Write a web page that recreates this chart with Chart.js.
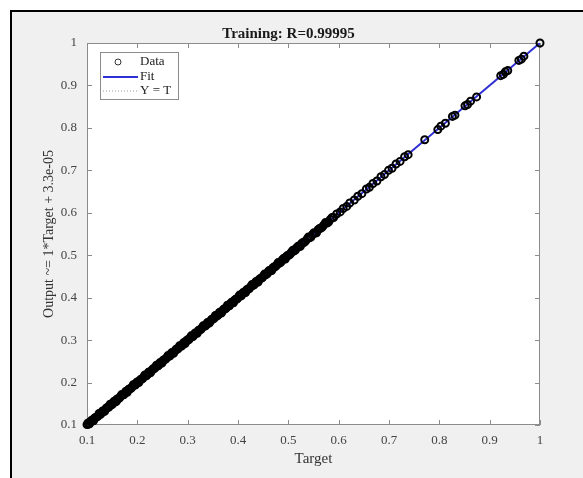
<!DOCTYPE html>
<html>
<head>
<meta charset="utf-8">
<script src="https://cdn.jsdelivr.net/npm/chart.js@4/dist/chart.umd.min.js"></script>
<style>
    html, body { margin: 0; padding: 0; background: #fff; }
    #regression { display: block; }
</style>
</head>
<body>
<canvas id="regression" width="583" height="478"></canvas>
<script>
// training targets and network outputs
const targets = [
    0.100, 0.103, 0.107, 0.111, 0.114, 0.118, 0.122, 0.125, 0.129, 0.133,
    0.137, 0.140, 0.144, 0.148, 0.152, 0.156, 0.159, 0.163, 0.167, 0.171,
    0.175, 0.178, 0.182, 0.186, 0.190, 0.194, 0.197, 0.201, 0.205, 0.209,
    0.213, 0.216, 0.220, 0.224, 0.228, 0.232, 0.236, 0.240, 0.243, 0.247,
    0.251, 0.255, 0.259, 0.263, 0.266, 0.270, 0.274, 0.278, 0.282, 0.286,
    0.290, 0.293, 0.297, 0.301, 0.305, 0.309, 0.313, 0.317, 0.321, 0.325,
    0.329, 0.333, 0.337, 0.341, 0.345, 0.349, 0.353, 0.357, 0.361, 0.365,
    0.369, 0.373, 0.377, 0.381, 0.385, 0.389, 0.393, 0.397, 0.401, 0.405,
    0.409, 0.413, 0.417, 0.421, 0.425, 0.430, 0.434, 0.438, 0.442, 0.447,
    0.451, 0.455, 0.460, 0.464, 0.469, 0.473, 0.478, 0.482, 0.487, 0.492,
    0.496, 0.501, 0.506, 0.511, 0.516, 0.521, 0.526, 0.531, 0.537, 0.542,
    0.548, 0.553, 0.559, 0.565, 0.571, 0.577, 0.583, 0.590, 0.596, 0.603,
    0.609, 0.616, 0.622, 0.631, 0.638, 0.646, 0.655, 0.661, 0.668, 0.676,
    0.684, 0.691, 0.699, 0.706, 0.714, 0.722, 0.731, 0.738, 0.771, 0.797,
    0.803, 0.812, 0.826, 0.831, 0.851, 0.856, 0.862, 0.874, 0.922, 0.927,
    0.931, 0.936, 0.958, 0.963, 0.968, 1.000,
    // second pass through the dense low range
    0.102, 0.105, 0.109, 0.113, 0.116, 0.120, 0.124, 0.127, 0.131, 0.135,
    0.139, 0.142, 0.146, 0.150, 0.154, 0.158, 0.161, 0.165, 0.169, 0.173,
    0.177, 0.180, 0.184, 0.188, 0.192, 0.196, 0.199, 0.203, 0.207, 0.211,
    0.215, 0.218, 0.222, 0.226, 0.230, 0.234, 0.238, 0.242, 0.245, 0.249,
    0.253, 0.257, 0.261, 0.265, 0.268, 0.272, 0.276, 0.280, 0.284, 0.288,
    0.292, 0.295, 0.299, 0.303, 0.307, 0.311, 0.315, 0.319, 0.323, 0.327,
    0.331, 0.335, 0.339, 0.343, 0.347, 0.351, 0.355, 0.359, 0.363, 0.367,
    0.371, 0.375, 0.379, 0.383, 0.387, 0.391, 0.395, 0.399, 0.403, 0.407,
    0.411, 0.415, 0.419, 0.423, 0.428, 0.432, 0.436, 0.440, 0.445, 0.449,
    0.453, 0.458, 0.462, 0.467, 0.471, 0.476, 0.480, 0.485, 0.490, 0.494,
    0.499, 0.504, 0.509, 0.514, 0.519, 0.524, 0.529, 0.534, 0.540, 0.545,
    0.551, 0.556, 0.562, 0.568, 0.574, 0.580, 0.587
];
const outputs = [
    0.101, 0.102, 0.108, 0.110, 0.115, 0.118, 0.121, 0.126, 0.129, 0.132,
    0.138, 0.141, 0.143, 0.148, 0.153, 0.155, 0.160, 0.162, 0.168, 0.171,
    0.174, 0.179, 0.183, 0.185, 0.190, 0.195, 0.196, 0.202, 0.205, 0.208,
    0.214, 0.217, 0.219, 0.225, 0.227, 0.233, 0.236, 0.239, 0.244, 0.246,
    0.252, 0.254, 0.260, 0.262, 0.267, 0.271, 0.273, 0.279, 0.281, 0.287,
    0.289, 0.294, 0.298, 0.300, 0.306, 0.308, 0.314, 0.316, 0.322, 0.324,
    0.330, 0.334, 0.336, 0.342, 0.344, 0.350, 0.352, 0.358, 0.360, 0.366,
    0.368, 0.374, 0.376, 0.382, 0.386, 0.388, 0.394, 0.396, 0.402, 0.404,
    0.410, 0.412, 0.418, 0.420, 0.426, 0.429, 0.435, 0.437, 0.443, 0.446,
    0.452, 0.454, 0.461, 0.463, 0.470, 0.472, 0.479, 0.481, 0.488, 0.491,
    0.497, 0.500, 0.507, 0.510, 0.517, 0.520, 0.527, 0.530, 0.538, 0.541,
    0.549, 0.552, 0.560, 0.564, 0.572, 0.576, 0.584, 0.589, 0.597, 0.602,
    0.610, 0.615, 0.623, 0.630, 0.639, 0.645, 0.656, 0.660, 0.669, 0.675,
    0.685, 0.690, 0.700, 0.705, 0.715, 0.721, 0.732, 0.737, 0.772, 0.796,
    0.804, 0.811, 0.827, 0.830, 0.852, 0.855, 0.863, 0.873, 0.923, 0.926,
    0.932, 0.935, 0.959, 0.962, 0.969, 1.000,
    0.105, 0.103, 0.111, 0.110, 0.117, 0.119, 0.127, 0.125, 0.133, 0.132,
    0.140, 0.141, 0.149, 0.148, 0.156, 0.155, 0.162, 0.164, 0.172, 0.171,
    0.179, 0.177, 0.185, 0.187, 0.195, 0.194, 0.201, 0.200, 0.208, 0.210,
    0.218, 0.216, 0.224, 0.223, 0.231, 0.233, 0.241, 0.240, 0.247, 0.246,
    0.254, 0.256, 0.264, 0.263, 0.270, 0.269, 0.277, 0.279, 0.287, 0.286,
    0.294, 0.292, 0.300, 0.302, 0.310, 0.309, 0.317, 0.316, 0.324, 0.326,
    0.334, 0.333, 0.341, 0.340, 0.348, 0.350, 0.358, 0.357, 0.365, 0.364,
    0.372, 0.374, 0.382, 0.381, 0.389, 0.388, 0.396, 0.398, 0.406, 0.405,
    0.413, 0.412, 0.420, 0.422, 0.431, 0.430, 0.438, 0.437, 0.446, 0.448,
    0.456, 0.456, 0.464, 0.464, 0.472, 0.475, 0.483, 0.483, 0.492, 0.491,
    0.500, 0.503, 0.512, 0.512, 0.521, 0.521, 0.530, 0.533, 0.543, 0.543,
    0.553, 0.553, 0.563, 0.567, 0.577, 0.578, 0.589
];

// fit: Output = 1*Target + 3.3e-05
const fitX = [0.1, 1];
const fitY = [0.100033, 1.000033];
const identity = [0.1, 1];

const axisTicks = [0.1, 0.2, 0.3, 0.4, 0.5, 0.6, 0.7, 0.8, 0.9, 1];
const titleText = "Training: R=0.99995";
const xTitle = "Target";
const yTitle = "Output ~= 1*Target + 3.3e-05";

const serif = "'Liberation Serif', 'Times New Roman', serif";

function pairs(xs, ys) {
    return xs.map((x, i) => ({ x: x, y: ys[i] }));
}

// grey figure panel, white axes box, inward tick marks
const figureBackground = {
    id: "figureBackground",
    beforeDraw(chart) {
        const ctx = chart.ctx;
        const area = chart.chartArea;
        ctx.save();
        ctx.fillStyle = "#ffffff";
        ctx.fillRect(0, 0, chart.width, chart.height);
        ctx.fillStyle = "#f0f0f0";
        ctx.fillRect(12, 12, chart.width - 12, chart.height - 12);
        ctx.strokeStyle = "#000000";
        ctx.lineWidth = 2;
        ctx.beginPath();
        ctx.moveTo(11, chart.height);
        ctx.lineTo(11, 11);
        ctx.lineTo(chart.width, 11);
        ctx.stroke();
        ctx.fillStyle = "#ffffff";
        ctx.fillRect(area.left, area.top, area.right - area.left, area.bottom - area.top);
        ctx.restore();
    },
    beforeDatasetsDraw(chart) {
        const ctx = chart.ctx;
        const area = chart.chartArea;
        const xs = chart.scales.x;
        const ys = chart.scales.y;
        ctx.save();
        ctx.strokeStyle = "#8c8c8c";
        ctx.lineWidth = 1;
        ctx.strokeRect(area.left + 0.5, area.top + 0.5, area.right - area.left - 1, area.bottom - area.top - 1);
        ctx.beginPath();
        axisTicks.forEach((v) => {
            const px = Math.round(xs.getPixelForValue(v)) + 0.5;
            ctx.moveTo(px, area.bottom);
            ctx.lineTo(px, area.bottom - 5);
            ctx.moveTo(px, area.top);
            ctx.lineTo(px, area.top + 5);
            const py = Math.round(ys.getPixelForValue(v)) + 0.5;
            ctx.moveTo(area.left, py);
            ctx.lineTo(area.left + 5, py);
            ctx.moveTo(area.right, py);
            ctx.lineTo(area.right - 5, py);
        });
        ctx.stroke();
        ctx.restore();
    },
};

// legend box in the upper-left corner of the axes
const cornerLegend = {
    id: "cornerLegend",
    afterDatasetsDraw(chart) {
        const ctx = chart.ctx;
        const sets = chart.data.datasets;
        const left = chart.chartArea.left + 13;
        const top = chart.chartArea.top + 9;
        ctx.save();
        ctx.fillStyle = "#ffffff";
        ctx.fillRect(left, top, 79, 48);
        ctx.strokeStyle = "#8c8c8c";
        ctx.lineWidth = 1;
        ctx.strokeRect(left + 0.5, top + 0.5, 78, 47);

        ctx.font = "13px " + serif;
        ctx.fillStyle = "#222222";
        ctx.textBaseline = "middle";

        // Data
        ctx.strokeStyle = "#333333";
        ctx.beginPath();
        ctx.arc(left + 18, top + 10, 3, 0, Math.PI * 2);
        ctx.stroke();
        ctx.fillText(sets[0].label, left + 40, top + 10);

        // Fit
        ctx.strokeStyle = sets[1].borderColor;
        ctx.lineWidth = 2;
        ctx.beginPath();
        ctx.moveTo(left + 3, top + 25);
        ctx.lineTo(left + 38, top + 25);
        ctx.stroke();
        ctx.fillText(sets[1].label, left + 40, top + 25);

        // Y = T
        ctx.strokeStyle = sets[2].borderColor;
        ctx.lineWidth = 1;
        ctx.setLineDash([1, 2]);
        ctx.beginPath();
        ctx.moveTo(left + 3, top + 39);
        ctx.lineTo(left + 38, top + 39);
        ctx.stroke();
        ctx.setLineDash([]);
        ctx.fillText(sets[2].label, left + 40, top + 39);
        ctx.restore();
    },
};

const ctx = document.getElementById("regression").getContext("2d");
const chart = new Chart(ctx, {
    type: "scatter",
    data: {
        datasets: [
            {
                label: "Data",
                data: pairs(targets, outputs),
                showLine: false,
                pointStyle: "circle",
                pointRadius: 3.5,
                pointBorderWidth: 2,
                pointBackgroundColor: "rgba(0,0,0,0)",
                borderColor: "#000000",
                backgroundColor: "rgba(0,0,0,0)",
                clip: false,
            },
            {
                label: "Fit",
                data: pairs(fitX, fitY),
                showLine: true,
                pointRadius: 0,
                borderColor: "#2f2fd6",
                borderWidth: 2,
            },
            {
                label: "Y = T",
                data: pairs(identity, identity),
                showLine: true,
                pointRadius: 0,
                borderColor: "#9a9a9a",
                borderWidth: 1,
                borderDash: [1, 2],
            },
        ],
    },
    options: {
        responsive: false,
        animation: false,
        devicePixelRatio: 1,
        layout: {
            padding: { left: 37, right: 43, top: 25, bottom: 8 },
        },
        plugins: {
            legend: { display: false },
            tooltip: { enabled: false },
            title: {
                display: true,
                text: titleText,
                color: "#1a1a1a",
                font: { family: serif, size: 15, weight: "bold" },
                padding: { top: 0, bottom: 0 },
            },
        },
        scales: {
            x: {
                type: "linear",
                min: 0.1,
                max: 1,
                afterBuildTicks: (scale) => {
                    scale.ticks = axisTicks.map((v) => ({ value: v }));
                },
                afterFit: (scale) => {
                    scale.height = 45;
                },
                border: { display: false },
                grid: { display: false },
                ticks: {
                    color: "#444444",
                    padding: 0,
                    font: { family: serif, size: 13 },
                    callback: (v) => String(Number(v.toFixed(1))),
                },
                title: {
                    display: true,
                    text: xTitle,
                    color: "#333333",
                    font: { family: serif, size: 15 },
                    padding: { top: 4, bottom: 2 },
                },
            },
            y: {
                type: "linear",
                min: 0.1,
                max: 1,
                afterBuildTicks: (scale) => {
                    scale.ticks = axisTicks.map((v) => ({ value: v }));
                },
                afterFit: (scale) => {
                    scale.width = 50;
                },
                border: { display: false },
                grid: { display: false },
                ticks: {
                    color: "#444444",
                    padding: 2,
                    font: { family: serif, size: 13 },
                    callback: (v) => String(Number(v.toFixed(1))),
                },
                title: {
                    display: true,
                    text: yTitle,
                    color: "#333333",
                    font: { family: serif, size: 14 },
                    padding: { top: 4, bottom: 4 },
                },
            },
        },
    },
    plugins: [figureBackground, cornerLegend],
});
</script>
</body>
</html>
